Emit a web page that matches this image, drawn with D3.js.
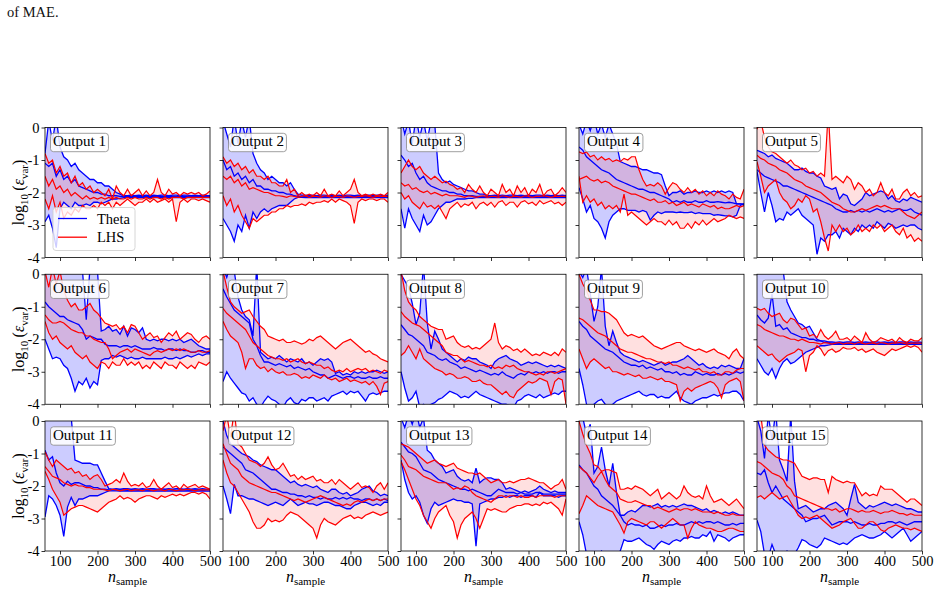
<!DOCTYPE html>
<html>
<head>
<meta charset="utf-8">
<script src="https://cdn.jsdelivr.net/npm/d3@7"></script>
<style>
  body { margin: 0; background: #fff; }
  svg text { font-family: "Liberation Serif", "Times New Roman", serif; }
</style>
</head>
<body>
<script>
// sample sizes on the x axis
const nSample = [60,70,80,90,100,110,120,130,140,150,160,170,180,190,200,210,220,230,240,250,260,270,280,290,300,
  310,320,330,340,350,360,370,380,390,400,410,420,430,440,450,460,470,480,490,500];

const outputNames = ["Output 1","Output 2","Output 3","Output 4","Output 5","Output 6","Output 7","Output 8",
  "Output 9","Output 10","Output 11","Output 12","Output 13","Output 14","Output 15"];

const xTicks = [100, 200, 300, 400, 500];
const yTicks = [0, -1, -2, -3, -4];

// log10 error, Theta sampling: upper bound, median, lower bound (one row per output)
const thetaUpper = [
  [-0.8,0.2,-0.4,0.3,-0.6,-0.9,-1.0,-1.2,-1.1,-1.3,-1.4,-1.5,-1.6,-1.6,-1.7,-1.7,-1.8,-1.8,-1.9,-2.0,-2.05,-2.1,-2.1,-2.08,-2.1,-2.08,-2.1,-2.08,-2.1,-2.08,-2.1,-2.08,-2.08,-2.1,-2.08,-2.08,-2.1,-2.08,-2.08,-2.1,-2.08,-2.1,-2.08,-2.1,-2.1],
  [0.2,-0.2,-0.6,0.3,-0.5,0.2,-0.3,0.3,-0.8,-1.1,-1.3,-1.4,-1.6,-1.5,-1.6,-1.7,-1.7,-1.8,-1.7,-1.9,-2.05,-2.08,-2.08,-2.1,-2.08,-2.1,-2.08,-2.08,-2.1,-2.08,-2.1,-2.08,-2.1,-2.08,-2.08,-2.1,-2.08,-2.1,-2.08,-2.08,-2.1,-2.08,-2.08,-2.1,-2.08],
  [0.3,-0.2,0.2,-0.5,0.3,-0.3,0.2,-0.4,0.2,0.1,-1.4,-1.6,-1.7,-1.65,-1.75,-1.8,-1.85,-1.9,-1.95,-1.95,-2.0,-2.05,-2.05,-2.1,-2.1,-2.08,-2.1,-2.08,-2.1,-2.08,-2.08,-2.1,-2.08,-2.1,-2.08,-2.1,-2.08,-2.08,-2.1,-2.08,-2.1,-2.08,-2.1,-2.08,-2.1],
  [0.1,-0.2,0.2,-0.1,0.3,-0.2,0.1,-0.3,0.1,-0.2,-0.5,-1.05,-1.1,-1.15,-1.2,-1.2,-1.25,-1.3,-1.3,-1.35,-1.4,-1.4,-1.45,-1.8,-2.1,-2.0,-2.0,-1.95,-2.05,-2.0,-2.0,-1.95,-2.0,-2.0,-1.95,-2.0,-1.95,-2.0,-1.95,-2.0,-1.95,-2.0,-2.35,-2.35,-2.35],
  [-0.7,-0.75,-0.8,-0.9,-0.85,-0.95,-1.0,-1.05,-1.1,-1.2,-1.3,-1.3,-1.25,-1.35,-1.4,-1.4,-1.5,-1.55,-1.8,-1.85,-1.9,-1.85,-2.2,-2.05,-2.1,-2.35,-2.4,-2.3,-2.2,-2.0,-2.1,-2.05,-2.0,-1.95,-2.0,-2.2,-2.1,-2.25,-2.3,-2.2,-2.25,-2.15,-2.2,-2.25,-2.3],
  [0.2,0.3,0.3,0.2,0.1,0.3,0.2,0.4,0.2,0.3,0.1,-1.4,0.2,0.3,0.1,-1.75,-1.7,-1.6,-1.75,-1.7,-1.85,-1.6,-1.9,-1.65,-1.7,-1.8,-1.65,-2.0,-2.05,-2.0,-2.05,-2.0,-2.0,-2.05,-2.0,-2.05,-2.0,-2.1,-2.05,-2.0,-2.1,-2.2,-2.25,-2.3,-2.3],
  [0.2,-0.1,0.3,0.1,-0.7,-1.1,-1.3,-1.4,-1.9,0.3,-2.4,-2.5,-2.6,-2.55,-2.6,-2.5,-2.6,-2.7,-2.6,-2.65,-2.7,-2.6,-2.75,-2.7,-2.8,-2.7,-2.6,-2.65,-2.6,-2.7,-3.05,-3.0,-3.1,-3.05,-3.1,-3.0,-3.05,-3.0,-3.05,-3.0,-3.0,-2.95,-3.0,-3.05,-3.0],
  [0.0,-0.2,-0.4,-0.9,-1.55,-1.2,0.3,-1.5,-2.3,-1.75,-2.0,-2.3,-2.4,-2.5,-2.6,-2.7,-2.6,-2.65,-2.55,-2.6,-2.6,-2.7,-2.75,-2.8,-2.9,-2.7,-2.6,-2.55,-2.5,-2.6,-2.65,-2.7,-2.8,-2.75,-2.7,-2.75,-2.7,-2.75,-2.8,-2.85,-2.8,-2.85,-2.8,-2.85,-2.9],
  [0.1,-0.1,0.2,-0.6,-1.45,-1.0,0.2,-1.6,-2.2,-1.75,-2.1,-2.4,-2.5,-2.55,-2.6,-2.65,-2.7,-2.65,-2.7,-2.75,-2.8,-2.75,-2.7,-2.8,-2.75,-2.7,-2.7,-2.65,-2.6,-2.5,-2.6,-2.7,-2.8,-2.75,-2.85,-2.9,-2.85,-2.9,-2.8,-2.85,-2.8,-2.85,-2.9,-2.9,-2.6],
  [0.1,0.2,0.3,0.1,0.2,0.1,0.2,0.1,-0.85,-1.1,-1.3,-1.5,-1.55,-1.65,-1.6,-1.8,-2.0,-2.05,-2.05,-2.08,-2.08,-2.1,-2.08,-2.1,-2.08,-2.08,-2.1,-2.08,-2.1,-2.08,-2.1,-2.08,-2.08,-2.1,-2.08,-2.1,-2.08,-2.1,-2.08,-2.08,-2.1,-2.08,-2.1,-2.08,-2.1],
  [0.1,0.2,0.2,0.1,0.3,0.2,0.2,0.1,-1.2,-1.25,-1.3,-1.3,-1.3,-1.35,-1.35,-1.6,-1.85,-2.08,-2.1,-2.08,-2.1,-2.08,-2.08,-2.1,-2.08,-2.1,-2.08,-2.1,-2.08,-2.08,-2.1,-2.08,-2.1,-2.08,-2.1,-2.08,-2.08,-2.1,-2.08,-2.1,-2.08,-2.1,-2.08,-2.1,-2.1],
  [0.0,-0.45,-0.7,-0.8,-0.9,-1.0,-1.05,-1.1,-1.2,-1.25,-1.35,-1.4,-1.45,-1.5,-1.5,-1.6,-1.7,-1.8,-1.9,-1.85,-1.95,-2.0,-1.95,-2.0,-2.05,-2.0,-2.1,-2.15,-2.2,-2.1,-2.1,-2.2,-2.25,-2.2,-2.3,-2.25,-2.2,-2.1,-2.05,-2.0,-2.15,-2.2,-2.3,-2.25,-2.3],
  [0.1,-0.2,0.2,-0.1,0.3,-0.2,0.1,-0.9,-1.0,-1.2,-1.3,-1.4,-1.6,-1.55,-1.5,-1.7,-1.8,-1.85,-1.8,-1.9,-1.45,-1.9,-1.8,-1.75,-1.75,-1.8,-1.8,-1.9,-2.1,-2.05,-2.1,-2.15,-2.2,-2.15,-2.2,-2.15,-2.1,-2.0,-2.1,-2.15,-2.2,-2.15,-2.2,-2.2,-2.2],
  [0.3,0.1,-0.4,-0.1,-1.6,-1.4,-0.8,-1.5,-2.0,-1.3,-2.2,-2.9,-2.9,-2.8,-2.75,-2.8,-2.7,-2.6,-2.6,-2.65,-2.6,-2.55,-2.65,-2.6,-2.65,-2.6,-2.65,-2.6,-2.55,-2.6,-2.6,-2.65,-2.7,-2.75,-2.7,-2.8,-2.75,-2.8,-2.85,-2.8,-2.85,-2.8,-2.85,-2.9,-2.9],
  [0.1,-0.3,-1.15,0.2,-0.6,0.3,-1.2,-1.5,-1.85,0.2,-1.85,-2.7,-2.65,-2.6,-2.7,-2.8,-2.75,-2.7,-2.7,-2.6,-2.55,-2.5,-2.6,-2.7,-2.9,-2.4,-1.95,-2.5,-2.6,-2.7,-2.6,-2.65,-2.6,-2.55,-2.5,-2.55,-2.6,-2.55,-2.6,-2.65,-2.7,-2.7,-2.75,-2.8,-2.8]
];

const thetaMedian = [
  [-1.1,-1.2,-1.1,-1.5,-1.3,-1.6,-1.5,-1.7,-1.6,-1.8,-1.85,-1.9,-1.95,-2.0,-2.0,-2.05,-2.05,-2.1,-2.1,-2.1,-2.12,-2.12,-2.13,-2.12,-2.12,-2.13,-2.12,-2.12,-2.13,-2.12,-2.12,-2.12,-2.13,-2.12,-2.12,-2.13,-2.12,-2.12,-2.12,-2.13,-2.12,-2.12,-2.13,-2.12,-2.12],
  [-1.0,-1.3,-1.2,-1.5,-1.4,-1.6,-1.5,-1.7,-1.6,-1.8,-1.8,-1.9,-1.9,-1.95,-1.95,-2.0,-2.0,-2.05,-2.05,-2.1,-2.12,-2.12,-2.13,-2.12,-2.12,-2.13,-2.12,-2.12,-2.13,-2.12,-2.12,-2.12,-2.13,-2.12,-2.12,-2.13,-2.12,-2.12,-2.12,-2.13,-2.12,-2.12,-2.13,-2.12,-2.12],
  [-0.85,-1.0,-1.2,-1.1,-1.4,-1.6,-1.5,-1.7,-1.8,-1.85,-1.9,-1.95,-1.95,-2.0,-2.0,-2.05,-2.05,-2.1,-2.1,-2.1,-2.12,-2.12,-2.13,-2.12,-2.12,-2.13,-2.12,-2.12,-2.13,-2.12,-2.12,-2.12,-2.13,-2.12,-2.12,-2.13,-2.12,-2.12,-2.12,-2.13,-2.12,-2.12,-2.13,-2.12,-2.12],
  [-0.6,-0.7,-0.9,-1.0,-1.1,-1.2,-1.3,-1.35,-1.4,-1.5,-1.6,-1.65,-1.7,-1.75,-1.8,-1.85,-1.9,-1.9,-1.95,-2.0,-2.0,-2.05,-2.1,-2.15,-2.2,-2.3,-2.25,-2.3,-2.25,-2.3,-2.3,-2.25,-2.3,-2.3,-2.25,-2.3,-2.3,-2.28,-2.3,-2.32,-2.3,-2.32,-2.35,-2.35,-2.38],
  [-1.3,-1.4,-1.5,-1.55,-1.6,-1.65,-1.7,-1.8,-1.8,-1.85,-1.9,-1.95,-2.0,-2.05,-2.1,-2.15,-2.2,-2.25,-2.3,-2.35,-2.4,-2.5,-2.55,-2.6,-2.6,-2.55,-2.6,-2.55,-2.6,-2.55,-2.6,-2.55,-2.5,-2.55,-2.6,-2.55,-2.6,-2.55,-2.5,-2.55,-2.55,-2.5,-2.6,-2.65,-2.7],
  [-0.85,-1.0,-1.1,-1.2,-1.3,-1.3,-1.4,-1.45,-1.5,-1.55,-1.7,-2.0,-1.9,-1.95,-2.0,-2.0,-2.15,-2.2,-2.2,-2.2,-2.25,-2.2,-2.2,-2.25,-2.2,-2.25,-2.3,-2.3,-2.3,-2.25,-2.3,-2.3,-2.35,-2.3,-2.3,-2.35,-2.3,-2.35,-2.35,-2.4,-2.4,-2.35,-2.35,-2.4,-2.4],
  [-0.45,-0.7,-0.9,-1.1,-1.2,-1.3,-1.4,-1.5,-2.0,-2.2,-2.5,-2.7,-2.7,-2.75,-2.8,-2.75,-2.8,-2.85,-2.8,-2.9,-2.85,-2.9,-2.95,-2.9,-3.0,-3.05,-3.1,-3.1,-3.2,-3.15,-3.1,-3.15,-3.2,-3.15,-3.15,-3.2,-3.15,-3.2,-3.2,-3.15,-3.2,-3.2,-3.15,-3.2,-3.2],
  [-1.55,-1.7,-1.85,-1.9,-2.0,-2.1,-2.2,-2.4,-2.45,-2.5,-2.6,-2.65,-2.6,-2.7,-2.75,-2.8,-2.9,-2.85,-2.9,-2.95,-3.0,-2.95,-3.0,-3.05,-3.1,-3.05,-3.1,-3.0,-3.1,-3.15,-3.2,-3.1,-3.05,-3.1,-3.0,-3.05,-3.0,-3.05,-3.0,-3.05,-3.0,-3.0,-3.05,-3.0,-3.0],
  [-1.45,-1.6,-1.7,-1.9,-2.0,-2.1,-2.2,-2.3,-2.35,-2.4,-2.5,-2.6,-2.7,-2.75,-2.8,-2.8,-2.85,-2.8,-2.9,-2.85,-2.9,-2.95,-2.9,-3.0,-3.0,-3.05,-3.0,-3.1,-3.05,-3.1,-3.1,-3.0,-3.05,-3.1,-3.05,-3.1,-3.1,-3.05,-3.1,-3.05,-3.1,-3.05,-3.0,-3.05,-3.0],
  [-1.25,-1.4,-1.5,-1.35,-0.6,-1.6,-1.55,-1.7,-1.65,-1.8,-1.85,-1.9,-1.95,-1.95,-2.0,-2.0,-2.05,-2.05,-2.1,-2.1,-2.12,-2.12,-2.13,-2.12,-2.12,-2.13,-2.12,-2.12,-2.13,-2.12,-2.12,-2.12,-2.13,-2.12,-2.12,-2.13,-2.12,-2.12,-2.12,-2.13,-2.12,-2.12,-2.13,-2.12,-2.12],
  [-0.9,-1.2,-1.1,-1.6,-1.9,-2.0,-1.85,-1.95,-1.9,-1.9,-1.95,-2.0,-2.0,-2.05,-2.05,-2.1,-2.1,-2.12,-2.12,-2.12,-2.12,-2.12,-2.13,-2.12,-2.12,-2.13,-2.12,-2.12,-2.13,-2.12,-2.12,-2.12,-2.13,-2.12,-2.12,-2.13,-2.12,-2.12,-2.12,-2.13,-2.12,-2.12,-2.13,-2.12,-2.12],
  [-0.8,-0.9,-1.0,-1.1,-1.2,-1.3,-1.5,-1.55,-1.6,-1.7,-1.8,-1.9,-2.0,-2.1,-2.1,-2.15,-2.2,-2.2,-2.25,-2.25,-2.3,-2.3,-2.35,-2.3,-2.35,-2.35,-2.4,-2.35,-2.4,-2.4,-2.35,-2.4,-2.35,-2.4,-2.35,-2.4,-2.4,-2.45,-2.4,-2.4,-2.45,-2.4,-2.45,-2.4,-2.45],
  [-0.65,-0.8,-0.95,-1.0,-1.1,-1.3,-1.5,-1.55,-1.6,-1.7,-1.8,-1.85,-1.9,-1.95,-2.0,-2.05,-2.1,-2.1,-2.15,-2.1,-2.15,-2.2,-2.25,-2.3,-2.3,-2.2,-2.1,-2.15,-2.2,-2.2,-2.2,-2.25,-2.2,-2.25,-2.25,-2.25,-2.2,-2.2,-2.25,-2.25,-2.25,-2.25,-2.25,-2.25,-2.25],
  [-1.35,-1.5,-1.6,-1.8,-2.0,-2.1,-2.3,-2.4,-2.5,-2.6,-2.75,-2.9,-3.1,-3.2,-3.15,-3.2,-3.2,-3.25,-3.2,-3.3,-3.3,-3.25,-3.2,-3.25,-3.2,-3.2,-3.15,-3.2,-3.2,-3.15,-3.1,-3.15,-3.1,-3.15,-3.1,-3.1,-3.15,-3.1,-3.15,-3.2,-3.2,-3.15,-3.2,-3.15,-3.15],
  [-1.6,-1.65,-1.5,-1.9,-2.2,-2.0,-2.2,-2.4,-2.5,-2.6,-2.7,-2.8,-2.9,-3.1,-3.05,-3.0,-3.0,-2.95,-2.9,-3.05,-3.2,-3.15,-3.1,-3.1,-3.1,-3.15,-3.1,-3.15,-3.2,-3.2,-3.15,-3.2,-3.2,-3.15,-3.15,-3.1,-3.1,-3.15,-3.1,-3.15,-3.2,-3.15,-3.1,-3.1,-3.1]
];

const thetaLower = [
  [-2.9,-2.7,-3.1,-3.7,-2.5,-2.3,-2.4,-2.5,-2.3,-2.4,-2.4,-2.35,-2.4,-2.3,-2.3,-2.35,-2.3,-2.25,-2.2,-2.2,-2.18,-2.16,-2.15,-2.15,-2.15,-2.16,-2.15,-2.16,-2.15,-2.16,-2.15,-2.16,-2.16,-2.15,-2.16,-2.15,-2.16,-2.15,-2.16,-2.15,-2.16,-2.15,-2.16,-2.15,-2.16],
  [-2.8,-3.0,-3.2,-3.5,-3.0,-3.2,-2.7,-3.1,-2.6,-2.8,-2.6,-2.5,-2.6,-2.5,-2.45,-2.4,-2.4,-2.4,-2.3,-2.2,-2.15,-2.15,-2.16,-2.15,-2.16,-2.15,-2.16,-2.15,-2.16,-2.15,-2.16,-2.16,-2.15,-2.16,-2.15,-2.16,-2.15,-2.16,-2.15,-2.16,-2.15,-2.16,-2.15,-2.16,-2.16],
  [-2.5,-3.1,-2.5,-2.8,-3.0,-3.2,-2.7,-3.0,-2.9,-2.7,-2.5,-2.4,-2.3,-2.3,-2.25,-2.2,-2.2,-2.2,-2.18,-2.18,-2.16,-2.15,-2.16,-2.15,-2.16,-2.15,-2.16,-2.15,-2.16,-2.15,-2.16,-2.16,-2.15,-2.16,-2.15,-2.16,-2.15,-2.16,-2.15,-2.16,-2.15,-2.16,-2.15,-2.16,-2.16],
  [-1.85,-2.2,-2.6,-2.4,-2.8,-2.9,-3.1,-3.4,-2.9,-2.7,-2.6,-2.5,-2.5,-2.55,-2.55,-2.55,-2.6,-2.55,-2.6,-2.85,-2.7,-2.6,-2.65,-2.6,-2.6,-2.6,-2.62,-2.6,-2.62,-2.62,-2.6,-2.65,-2.62,-2.65,-2.65,-2.65,-2.7,-2.68,-2.7,-2.72,-2.72,-2.75,-2.7,-2.4,-2.35],
  [-1.35,-2.0,-2.6,-2.0,-2.4,-2.9,-2.8,-2.85,-2.6,-2.7,-2.6,-2.5,-2.7,-2.8,-2.9,-3.0,-3.9,-3.4,-3.5,-3.3,-3.3,-3.2,-3.4,-3.1,-3.2,-3.3,-3.1,-3.2,-3.0,-3.1,-3.0,-3.1,-2.9,-3.0,-3.1,-2.95,-3.0,-3.1,-3.05,-3.0,-3.05,-3.0,-3.0,-3.1,-3.15],
  [-2.0,-2.3,-2.6,-2.55,-2.6,-2.8,-2.9,-3.2,-3.6,-3.3,-3.4,-3.2,-3.5,-3.3,-3.4,-2.65,-2.6,-2.6,-2.5,-2.55,-2.5,-2.55,-2.6,-2.55,-2.6,-2.6,-2.55,-2.6,-2.6,-2.6,-2.6,-2.6,-2.55,-2.6,-2.6,-2.55,-2.6,-2.55,-2.5,-2.55,-2.5,-2.45,-2.5,-2.45,-2.45],
  [-3.3,-3.0,-3.2,-3.35,-3.5,-3.65,-3.7,-3.9,-3.8,-4.0,-4.1,-3.9,-3.75,-3.85,-3.9,-4.0,-4.1,-3.9,-3.8,-3.95,-4.0,-3.85,-3.9,-3.8,-3.8,-3.9,-3.85,-3.8,-3.9,-3.75,-3.7,-3.65,-3.6,-3.7,-3.6,-3.65,-3.6,-3.75,-3.9,-3.7,-3.65,-3.7,-3.65,-3.6,-3.6],
  [-3.0,-3.5,-3.9,-3.8,-3.6,-4.1,-4.0,-4.1,-4.0,-3.95,-3.85,-3.8,-3.7,-3.6,-3.65,-3.7,-3.8,-3.75,-3.8,-3.7,-3.6,-3.7,-3.75,-3.8,-3.85,-3.9,-3.95,-4.0,-4.0,-4.05,-4.1,-3.9,-3.85,-3.75,-3.7,-3.75,-3.8,-3.7,-3.8,-3.75,-3.7,-3.65,-3.7,-3.6,-3.6],
  [-2.9,-3.4,-4.0,-4.1,-4.0,-3.9,-3.85,-4.0,-4.1,-4.0,-3.9,-3.85,-3.8,-3.75,-3.7,-3.65,-3.6,-3.7,-3.75,-3.7,-3.7,-3.8,-3.75,-3.8,-3.8,-3.7,-3.6,-3.8,-3.9,-3.95,-4.0,-3.9,-3.85,-3.8,-3.8,-3.75,-3.7,-3.75,-3.7,-3.65,-3.65,-3.6,-3.6,-3.7,-3.9],
  [-2.6,-2.8,-3.0,-3.1,-2.9,-3.2,-2.9,-2.7,-2.6,-2.75,-2.7,-2.6,-2.5,-2.4,-2.35,-2.3,-2.25,-2.2,-2.2,-2.18,-2.16,-2.15,-2.16,-2.15,-2.16,-2.15,-2.16,-2.15,-2.16,-2.15,-2.16,-2.16,-2.15,-2.16,-2.15,-2.16,-2.15,-2.16,-2.15,-2.16,-2.15,-2.16,-2.15,-2.16,-2.16],
  [-2.95,-2.3,-2.4,-2.6,-2.9,-3.55,-2.65,-2.35,-2.6,-2.4,-2.4,-2.35,-2.3,-2.3,-2.3,-2.25,-2.2,-2.15,-2.15,-2.15,-2.16,-2.15,-2.16,-2.15,-2.16,-2.15,-2.16,-2.15,-2.16,-2.15,-2.16,-2.16,-2.15,-2.16,-2.15,-2.16,-2.15,-2.16,-2.15,-2.16,-2.15,-2.16,-2.15,-2.16,-2.16],
  [-2.0,-2.4,-2.85,-1.95,-2.3,-2.3,-2.35,-2.4,-2.4,-2.45,-2.5,-2.55,-2.6,-2.55,-2.5,-2.55,-2.6,-2.5,-2.4,-2.5,-2.6,-2.55,-2.5,-2.55,-2.55,-2.6,-2.55,-2.5,-2.5,-2.55,-2.6,-2.6,-2.65,-2.7,-2.7,-2.6,-2.55,-2.5,-2.5,-2.55,-2.6,-2.55,-2.6,-2.5,-2.5],
  [-1.2,-1.8,-2.2,-2.4,-2.3,-2.5,-2.9,-3.15,-2.7,-2.5,-2.6,-2.55,-2.5,-2.45,-2.4,-2.45,-2.45,-2.5,-2.5,-2.55,-3.85,-2.55,-2.5,-2.45,-2.4,-2.4,-2.35,-2.35,-2.3,-2.35,-2.3,-2.3,-2.35,-2.3,-2.3,-2.3,-2.35,-2.2,-2.3,-2.3,-2.3,-2.3,-2.35,-2.3,-2.3],
  [-3.1,-3.5,-4.1,-4.2,-4.1,-4.2,-4.0,-4.1,-4.2,-4.1,-4.1,-4.0,-3.65,-3.7,-3.7,-3.65,-3.6,-3.7,-3.8,-3.85,-3.95,-3.8,-3.7,-3.75,-3.8,-3.7,-3.65,-3.7,-3.6,-3.6,-3.55,-3.6,-3.6,-3.5,-3.55,-3.4,-3.7,-3.5,-3.55,-3.6,-3.7,-3.6,-3.55,-3.5,-3.5],
  [-3.05,-3.4,-4.1,-4.2,-3.8,-4.1,-4.2,-4.1,-4.0,-4.2,-4.1,-3.9,-3.65,-3.7,-3.8,-3.85,-3.9,-3.8,-3.6,-3.65,-3.7,-3.75,-3.8,-3.75,-3.8,-3.7,-3.6,-3.55,-3.5,-3.55,-3.6,-3.6,-3.55,-3.5,-3.4,-3.5,-3.6,-3.5,-3.4,-3.3,-3.5,-3.7,-3.6,-3.5,-3.4]
];

// log10 error, LHS sampling: upper bound, median, lower bound
const lhsUpper = [
  [-0.8,-1.1,-1.0,-1.4,-1.2,-1.5,-1.4,-1.7,-1.5,-1.8,-1.7,-1.9,-1.8,-2.0,-1.9,-2.0,-2.1,-1.9,-2.2,-1.8,-2.0,-2.1,-1.9,-2.1,-2.0,-1.9,-2.1,-1.95,-2.1,-2.0,-1.6,-2.0,-2.1,-1.9,-2.05,-2.0,-2.1,-2.0,-2.05,-2.0,-2.05,-2.0,-2.1,-2.05,-1.95],
  [-0.9,-1.1,-1.0,-1.2,-1.1,-1.3,-1.2,-1.4,-1.3,-1.5,-1.5,-1.6,-1.5,-1.7,-1.7,-1.8,-1.8,-1.6,-2.0,-1.9,-2.1,-2.0,-2.1,-2.05,-2.1,-2.0,-2.1,-1.9,-2.1,-2.05,-2.1,-1.95,-2.1,-2.0,-1.9,-1.6,-2.0,-2.1,-2.05,-2.1,-2.05,-2.1,-2.05,-2.1,-2.0],
  [-1.4,-1.2,-1.0,-1.2,-1.3,-1.2,-1.4,-1.5,-1.6,-1.5,-1.6,-1.7,-1.65,-1.75,-1.8,-1.9,-1.85,-2.0,-1.75,-1.9,-2.0,-1.8,-2.0,-2.1,-1.9,-2.0,-2.1,-1.75,-2.0,-1.9,-2.1,-1.8,-2.0,-1.85,-2.1,-1.9,-2.0,-1.75,-2.1,-1.95,-1.9,-2.1,-2.0,-1.85,-2.0],
  [-0.75,-0.8,-0.75,-0.9,-0.85,-1.0,-0.9,-1.0,-0.95,-1.05,-1.0,-1.05,-0.95,-1.0,-0.9,-0.9,-1.3,-1.6,-1.8,-1.75,-1.8,-1.7,-1.8,-2.05,-1.85,-1.7,-1.75,-1.9,-2.0,-1.85,-2.0,-1.9,-2.05,-1.95,-2.1,-2.0,-2.1,-1.95,-2.05,-2.1,-2.2,-2.05,-2.15,-2.2,-1.9],
  [-0.05,0.2,-0.3,-0.6,-0.75,-0.8,-0.9,-1.0,-1.1,-1.0,-1.15,-1.2,-1.3,-1.25,-1.4,-1.35,-1.5,-1.4,-1.5,0.5,-1.6,-1.5,-1.6,-1.7,-1.5,-1.6,-1.9,-1.7,-1.8,-2.0,-1.9,-2.1,-2.0,-1.7,-2.0,-2.1,-1.9,-2.2,-2.2,-2.0,-1.9,-2.1,-2.0,-2.15,-2.1],
  [0.1,-0.4,0.2,-0.3,0.1,-0.5,-0.8,-1.0,-0.9,-1.1,-1.1,-1.0,-0.9,-1.1,-1.2,-1.35,-1.5,-1.55,-1.6,-1.55,-1.7,-1.6,-1.8,-1.55,-1.6,-1.8,-2.0,-1.9,-1.8,-1.95,-1.9,-2.1,-1.95,-1.8,-1.9,-1.75,-2.0,-1.9,-1.8,-1.85,-2.0,-2.1,-1.95,-1.9,-2.0],
  [0.1,-0.4,-0.85,-1.0,-1.1,-1.2,-1.15,-1.1,-1.3,-1.45,-1.6,-1.7,-1.9,-1.95,-2.0,-2.05,-2.0,-2.1,-2.1,-2.05,-2.1,-2.15,-2.1,-2.0,-2.05,-1.95,-1.9,-2.0,-2.1,-2.2,-2.3,-2.2,-2.1,-2.05,-2.0,-2.1,-2.2,-2.3,-2.4,-2.35,-2.45,-2.5,-2.6,-2.65,-2.7],
  [0.1,-0.5,-0.85,-1.0,-1.1,-1.3,-1.4,-1.5,-1.6,-1.65,-1.7,-1.7,-2.0,-1.95,-1.9,-2.1,-2.2,-2.25,-2.2,-2.3,-2.25,-2.3,-2.2,-2.1,-2.0,-1.5,-2.1,-2.3,-2.2,-2.25,-2.35,-2.3,-2.4,-2.3,-2.4,-2.5,-2.45,-2.5,-2.4,-2.45,-2.5,-2.4,-2.5,-2.3,-2.4],
  [0.0,-0.3,-0.5,-0.8,-1.1,-1.1,-1.15,-1.15,-1.2,-1.3,-1.4,-1.6,-1.8,-1.9,-1.85,-1.9,-1.95,-1.9,-2.0,-2.1,-2.2,-2.25,-2.3,-2.25,-2.2,-2.15,-2.1,-2.1,-2.2,-2.25,-2.3,-2.35,-2.3,-2.35,-2.4,-2.35,-2.3,-2.4,-2.45,-2.5,-2.6,-2.4,-2.3,-2.5,-2.6],
  [-1.05,-1.1,-1.05,-1.2,-1.3,-1.25,-1.2,-1.4,-1.5,-1.35,-1.4,-1.55,-1.7,-1.65,-1.9,-1.85,-1.95,-1.7,-1.9,-2.0,-1.9,-1.75,-2.0,-2.0,-1.95,-2.05,-1.9,-2.0,-2.1,-1.8,-2.0,-2.1,-2.05,-1.95,-2.0,-2.05,-2.0,-2.1,-1.95,-2.05,-2.1,-2.0,-2.05,-2.05,-1.95],
  [-0.95,-1.2,-1.4,-1.2,-1.3,-1.4,-1.5,-1.45,-1.6,-1.55,-1.7,-1.65,-1.8,-1.7,-1.65,-1.8,-2.0,-1.95,-1.9,-1.8,-1.9,-1.6,-1.85,-2.0,-1.95,-2.0,-1.9,-2.05,-2.0,-1.8,-2.0,-2.1,-2.0,-1.9,-2.05,-2.0,-2.1,-1.95,-2.05,-2.0,-1.95,-2.05,-2.0,-2.05,-2.1],
  [-0.3,0.2,-0.5,0.3,-0.7,-0.8,-1.0,-1.2,-1.25,-1.3,-1.4,-1.3,-1.1,-1.35,-1.5,-1.45,-1.3,-1.5,-1.7,-1.65,-1.8,-1.7,-1.8,-1.75,-1.7,-1.85,-1.8,-1.9,-1.9,-1.8,-1.95,-1.8,-1.9,-2.0,-2.1,-2.0,-1.9,-2.05,-2.0,-2.05,-2.2,-2.0,-1.9,-2.1,-1.9],
  [-0.7,-0.75,-0.8,-0.9,-1.0,-1.1,-1.2,-1.3,-1.25,-1.2,-1.3,-1.35,-1.4,-1.35,-1.3,-1.45,-1.5,-1.55,-1.6,-1.6,-1.65,-1.6,-1.7,-1.8,-1.9,-1.85,-1.8,-1.9,-1.9,-1.85,-1.9,-1.85,-1.8,-1.8,-1.75,-1.8,-1.85,-1.9,-1.9,-2.0,-2.1,-2.0,-1.95,-1.8,-2.1],
  [0.0,-0.4,-0.75,-1.0,-1.35,-1.4,-1.55,-1.5,-1.5,-1.55,-1.6,-2.1,-2.1,-2.05,-2.1,-2.0,-2.05,-2.1,-2.2,-2.3,-2.2,-2.1,-2.4,-2.3,-2.2,-2.3,-2.4,-2.3,-2.0,-2.2,-2.3,-2.35,-2.3,-2.4,-2.0,-2.3,-2.5,-2.45,-2.4,-2.5,-2.6,-2.5,-2.4,-2.55,-2.7],
  [0.0,0.2,-0.75,-0.9,-1.0,-1.1,-1.15,-1.2,-1.2,-1.25,-1.3,-1.5,-1.7,-1.75,-1.8,-1.75,-1.75,-1.8,-1.8,-2.2,-1.7,-1.8,-1.85,-1.9,-1.85,-1.9,-1.9,-2.1,-2.3,-2.2,-2.3,-2.25,-2.3,-2.0,-2.1,-2.1,-2.1,-2.2,-2.3,-2.4,-2.5,-2.4,-2.4,-2.5,-2.6]
];

const lhsMedian = [
  [-1.5,-1.8,-1.6,-1.9,-1.8,-2.0,-1.9,-2.1,-2.0,-2.1,-2.2,-2.1,-2.2,-2.15,-2.2,-2.15,-2.2,-2.15,-2.2,-2.15,-2.2,-2.2,-2.15,-2.2,-2.15,-2.2,-2.2,-2.15,-2.2,-2.15,-2.15,-2.2,-2.15,-2.2,-2.15,-2.15,-2.15,-2.2,-2.15,-2.15,-2.15,-2.15,-2.15,-2.15,-2.15],
  [-1.5,-1.6,-1.5,-1.7,-1.6,-1.8,-1.7,-1.9,-1.85,-1.9,-1.95,-2.0,-2.0,-2.05,-2.1,-2.1,-2.12,-2.15,-2.1,-2.12,-2.15,-2.12,-2.1,-2.15,-2.12,-2.12,-2.15,-2.1,-2.12,-2.15,-2.12,-2.12,-2.15,-2.1,-2.12,-2.15,-2.12,-2.12,-2.1,-2.12,-2.15,-2.12,-2.12,-2.12,-2.12],
  [-1.7,-1.8,-1.75,-1.9,-1.85,-1.95,-2.0,-1.95,-2.05,-2.0,-2.05,-2.1,-2.05,-2.1,-2.1,-2.1,-2.12,-2.15,-2.1,-2.12,-2.15,-2.12,-2.1,-2.15,-2.12,-2.12,-2.15,-2.1,-2.12,-2.15,-2.12,-2.12,-2.15,-2.1,-2.12,-2.15,-2.12,-2.12,-2.1,-2.12,-2.15,-2.12,-2.12,-2.12,-2.12],
  [-1.6,-1.55,-1.5,-1.6,-1.65,-1.6,-1.7,-1.65,-1.7,-1.8,-1.85,-1.9,-1.95,-2.0,-2.05,-2.05,-2.1,-2.15,-2.2,-2.25,-2.2,-2.3,-2.3,-2.25,-2.35,-2.3,-2.4,-2.35,-2.3,-2.4,-2.35,-2.4,-2.45,-2.35,-2.4,-2.45,-2.4,-2.5,-2.45,-2.5,-2.5,-2.45,-2.4,-2.45,-2.4],
  [-0.85,-0.95,-1.0,-1.1,-1.15,-1.2,-1.3,-1.35,-1.4,-1.5,-1.6,-1.65,-1.7,-1.8,-1.85,-1.9,-1.95,-2.0,-2.1,-2.2,-2.3,-2.35,-2.4,-2.5,-2.55,-2.6,-2.6,-2.55,-2.5,-2.55,-2.5,-2.45,-2.4,-2.45,-2.4,-2.45,-2.5,-2.5,-2.5,-2.6,-2.7,-2.75,-2.8,-2.7,-2.6],
  [-1.25,-1.4,-1.5,-1.5,-1.45,-1.5,-1.6,-1.7,-1.75,-1.8,-1.8,-1.9,-1.9,-2.0,-2.05,-2.1,-2.1,-2.3,-2.6,-2.5,-2.4,-2.35,-2.3,-2.4,-2.3,-2.35,-2.4,-2.45,-2.5,-2.4,-2.35,-2.4,-2.35,-2.3,-2.35,-2.3,-2.35,-2.3,-2.35,-2.4,-2.4,-2.35,-2.4,-2.4,-2.35],
  [-1.05,-1.2,-1.3,-1.4,-1.5,-1.6,-1.7,-1.9,-2.1,-2.2,-2.3,-2.4,-2.5,-2.55,-2.6,-2.6,-2.65,-2.6,-2.7,-2.65,-2.6,-2.7,-2.75,-2.7,-2.75,-2.8,-2.8,-2.9,-2.85,-2.95,-3.0,-2.95,-3.0,-2.9,-3.0,-2.95,-2.9,-2.95,-2.9,-3.0,-2.95,-3.0,-3.05,-2.95,-3.0],
  [-1.15,-1.3,-1.4,-1.5,-1.55,-1.6,-1.7,-1.8,-1.9,-2.0,-2.1,-2.2,-2.4,-2.45,-2.5,-2.5,-2.6,-2.7,-2.65,-2.7,-2.75,-2.8,-2.8,-2.85,-2.8,-2.9,-2.85,-2.9,-2.8,-2.85,-2.8,-2.9,-2.95,-3.0,-3.0,-3.05,-3.1,-3.05,-3.1,-3.0,-3.0,-3.05,-3.0,-2.95,-2.9],
  [-1.35,-1.4,-1.5,-1.6,-1.7,-1.8,-1.85,-1.9,-2.0,-2.1,-2.2,-2.3,-2.35,-2.4,-2.4,-2.45,-2.5,-2.55,-2.6,-2.6,-2.65,-2.7,-2.7,-2.75,-2.7,-2.8,-2.8,-2.85,-2.9,-2.85,-2.9,-2.95,-2.9,-3.0,-3.0,-3.05,-3.0,-3.1,-3.1,-3.0,-3.0,-3.05,-2.95,-2.9,-2.9],
  [-1.55,-1.6,-1.7,-1.75,-1.8,-1.85,-1.9,-1.9,-1.95,-2.0,-2.0,-2.05,-2.0,-2.05,-2.1,-2.1,-2.12,-2.15,-2.1,-2.12,-2.15,-2.12,-2.1,-2.15,-2.12,-2.12,-2.15,-2.1,-2.12,-2.15,-2.12,-2.12,-2.15,-2.1,-2.12,-2.15,-2.12,-2.12,-2.1,-2.12,-2.15,-2.12,-2.12,-2.12,-2.12],
  [-1.4,-1.55,-1.7,-1.75,-1.8,-1.9,-1.95,-2.0,-1.95,-2.0,-2.0,-2.05,-2.05,-2.1,-2.1,-2.1,-2.12,-2.15,-2.1,-2.12,-2.15,-2.12,-2.1,-2.15,-2.12,-2.12,-2.15,-2.1,-2.12,-2.15,-2.12,-2.12,-2.15,-2.1,-2.12,-2.15,-2.12,-2.12,-2.1,-2.12,-2.15,-2.12,-2.12,-2.12,-2.12],
  [-0.7,-1.0,-1.3,-1.4,-1.5,-1.7,-1.8,-1.9,-1.95,-2.0,-2.05,-2.1,-2.15,-2.2,-2.2,-2.25,-2.3,-2.35,-2.4,-2.45,-2.4,-2.45,-2.5,-2.45,-2.4,-2.35,-2.3,-2.35,-2.4,-2.45,-2.5,-2.55,-2.6,-2.55,-2.6,-2.5,-2.45,-2.5,-2.45,-2.4,-2.45,-2.4,-2.45,-2.4,-2.4],
  [-1.05,-1.2,-1.4,-1.45,-1.5,-1.6,-1.7,-1.75,-1.8,-1.85,-1.9,-1.9,-1.9,-2.0,-2.1,-2.05,-2.1,-2.0,-2.05,-2.2,-2.3,-2.35,-2.4,-2.45,-2.5,-2.4,-2.3,-2.3,-2.35,-2.3,-2.3,-2.35,-2.3,-2.35,-2.35,-2.3,-2.35,-2.3,-2.3,-2.3,-2.3,-2.35,-2.3,-2.3,-2.3],
  [-1.4,-1.5,-1.6,-1.75,-1.9,-1.7,-1.55,-1.8,-2.0,-2.1,-2.2,-2.4,-2.45,-2.5,-2.5,-2.45,-2.5,-2.55,-2.6,-2.6,-2.7,-2.65,-2.7,-2.75,-2.8,-2.75,-2.7,-2.75,-2.7,-2.7,-2.75,-2.7,-2.75,-2.8,-2.8,-2.8,-2.85,-2.8,-2.85,-2.9,-2.9,-2.85,-2.9,-2.9,-2.9],
  [-1.25,-1.3,-1.4,-1.5,-1.6,-1.65,-1.7,-1.8,-2.0,-2.1,-2.3,-2.35,-2.4,-2.45,-2.5,-2.55,-2.6,-2.65,-2.7,-2.7,-2.75,-2.7,-2.8,-2.75,-2.7,-2.7,-2.75,-2.8,-2.75,-2.8,-2.8,-2.75,-2.8,-2.85,-2.8,-2.8,-2.75,-2.8,-2.85,-2.85,-2.9,-2.85,-2.9,-2.9,-2.9]
];

const lhsLower = [
  [-2.2,-2.5,-2.1,-2.6,-2.3,-2.8,-2.6,-2.7,-2.5,-2.6,-2.4,-2.5,-2.5,-2.4,-2.5,-2.3,-2.4,-2.3,-2.5,-2.3,-2.4,-2.3,-2.2,-2.3,-2.4,-2.3,-2.3,-2.2,-2.3,-2.2,-2.3,-2.25,-2.2,-2.3,-2.2,-2.9,-2.3,-2.2,-2.3,-2.2,-2.2,-2.25,-2.2,-2.25,-2.3],
  [-2.1,-2.4,-2.2,-2.6,-2.4,-2.7,-2.9,-3.1,-2.8,-2.9,-2.8,-2.7,-2.7,-2.6,-2.6,-2.5,-2.5,-2.4,-2.45,-2.4,-2.4,-2.35,-2.4,-2.3,-2.35,-2.3,-2.3,-2.25,-2.3,-2.2,-2.3,-2.2,-2.25,-2.3,-2.4,-2.95,-2.3,-2.2,-2.25,-2.2,-2.2,-2.25,-2.2,-2.2,-2.3],
  [-2.0,-2.2,-2.1,-2.3,-2.4,-2.5,-2.3,-2.45,-2.4,-2.5,-2.4,-2.6,-2.8,-2.5,-2.4,-2.3,-2.45,-2.35,-2.4,-2.3,-2.5,-2.35,-2.3,-2.4,-2.3,-2.45,-2.3,-2.25,-2.4,-2.3,-2.3,-2.45,-2.3,-2.25,-2.35,-2.3,-2.4,-2.25,-2.35,-2.3,-2.25,-2.35,-2.3,-2.4,-2.3],
  [-1.5,-2.3,-2.1,-2.3,-2.2,-2.4,-2.3,-2.5,-2.4,-2.5,-2.4,-2.6,-2.05,-2.7,-2.6,-2.7,-2.8,-2.9,-3.0,-2.9,-2.8,-2.9,-2.9,-3.0,-2.85,-3.0,-2.9,-3.1,-3.1,-2.95,-3.1,-2.9,-3.0,-2.85,-3.0,-2.9,-2.8,-2.9,-2.85,-2.8,-2.7,-2.75,-2.8,-2.75,-2.8],
  [-1.05,-1.5,-2.0,-1.8,-1.7,-1.6,-2.0,-2.2,-2.3,-2.5,-2.4,-2.2,-2.3,-2.1,-2.2,-2.6,-2.5,-2.9,-3.4,-3.8,-3.0,-3.2,-3.0,-3.2,-3.1,-3.3,-3.2,-3.0,-3.2,-3.1,-3.2,-3.0,-3.1,-3.0,-3.2,-3.1,-3.0,-3.2,-3.3,-3.1,-3.4,-3.3,-3.5,-3.4,-3.5],
  [-1.45,-1.8,-2.0,-1.9,-2.1,-2.2,-2.3,-2.2,-2.4,-2.5,-2.6,-2.5,-2.7,-2.8,-2.9,-2.7,-2.75,-2.9,-2.7,-2.8,-2.8,-2.6,-2.8,-2.7,-2.8,-2.7,-2.9,-2.8,-2.9,-2.7,-2.8,-2.9,-2.7,-2.8,-2.8,-2.9,-2.7,-2.8,-2.9,-2.8,-2.9,-2.7,-2.75,-2.8,-2.7],
  [-1.45,-1.7,-1.9,-2.0,-2.1,-2.4,-2.9,-2.6,-2.6,-2.8,-2.9,-2.85,-3.0,-2.9,-3.0,-3.05,-3.0,-3.1,-3.1,-3.05,-3.1,-3.2,-3.15,-3.2,-3.1,-3.15,-3.2,-3.1,-3.2,-3.25,-3.2,-3.3,-3.25,-3.2,-3.3,-3.25,-3.3,-3.35,-3.3,-3.4,-3.3,-3.45,-3.7,-3.35,-3.3],
  [-2.5,-2.4,-2.2,-2.4,-2.6,-2.3,-2.6,-2.7,-2.8,-2.9,-2.95,-3.0,-3.1,-3.05,-3.1,-3.2,-3.2,-3.15,-3.2,-3.3,-3.3,-3.25,-3.35,-3.4,-3.4,-3.5,-3.6,-3.7,-3.6,-3.75,-3.8,-3.6,-3.5,-3.4,-3.3,-3.35,-3.3,-3.2,-3.25,-3.3,-3.7,-3.3,-3.2,-3.25,-4.0],
  [-2.3,-2.6,-2.9,-2.7,-2.6,-2.7,-2.8,-2.9,-2.85,-3.0,-3.0,-3.05,-3.1,-3.05,-3.1,-3.15,-3.1,-3.2,-3.2,-3.15,-3.2,-3.25,-3.2,-3.3,-3.3,-3.35,-3.4,-3.9,-3.6,-3.5,-3.6,-3.5,-3.45,-3.4,-3.35,-3.3,-3.35,-3.5,-3.8,-3.4,-3.3,-3.25,-3.2,-3.3,-3.9],
  [-2.2,-2.3,-2.4,-2.5,-2.45,-2.6,-2.7,-2.6,-2.5,-2.45,-2.4,-2.3,-2.35,-3.0,-2.5,-2.4,-2.2,-2.3,-2.5,-2.35,-2.3,-2.4,-2.35,-2.25,-2.3,-2.3,-2.25,-2.35,-2.3,-2.4,-2.35,-2.3,-2.4,-2.45,-2.5,-2.4,-2.3,-2.35,-2.3,-2.25,-2.2,-2.25,-2.2,-2.25,-2.4],
  [-1.55,-1.8,-2.1,-2.3,-2.5,-2.9,-2.8,-2.7,-2.65,-2.6,-2.6,-2.65,-2.7,-2.75,-2.8,-2.7,-2.6,-2.5,-2.45,-2.4,-2.3,-2.4,-2.35,-2.4,-2.5,-2.4,-2.35,-2.3,-2.3,-2.35,-2.4,-2.3,-2.35,-2.3,-2.25,-2.3,-2.25,-2.3,-2.25,-2.2,-2.2,-2.25,-2.2,-2.25,-2.4],
  [-1.2,-1.6,-1.9,-2.0,-2.2,-2.4,-2.6,-2.8,-3.1,-3.3,-3.3,-3.2,-3.0,-3.1,-3.05,-3.1,-3.05,-2.9,-2.8,-2.85,-2.9,-3.0,-3.1,-3.2,-3.3,-3.6,-3.2,-3.0,-3.1,-3.15,-3.2,-3.1,-3.0,-2.95,-2.9,-3.0,-2.95,-3.0,-2.9,-2.85,-2.8,-2.85,-2.9,-2.85,-2.8],
  [-1.25,-1.5,-1.8,-2.1,-2.4,-2.6,-2.9,-3.1,-3.3,-3.0,-2.8,-2.7,-2.6,-2.9,-3.1,-3.6,-3.2,-3.0,-2.9,-2.8,-3.0,-3.3,-3.0,-2.7,-2.75,-2.7,-2.75,-2.8,-2.8,-2.7,-2.65,-2.6,-2.6,-2.55,-2.55,-2.6,-2.55,-2.6,-2.5,-2.55,-2.5,-2.6,-2.7,-2.9,-2.4],
  [-2.85,-2.6,-2.3,-2.4,-2.5,-2.6,-2.65,-2.7,-2.75,-2.8,-3.0,-3.2,-3.45,-3.1,-3.0,-3.05,-3.1,-3.15,-3.2,-3.1,-3.1,-3.2,-3.3,-3.2,-3.1,-3.0,-3.1,-3.2,-3.2,-3.6,-3.3,-3.1,-3.2,-3.25,-3.3,-3.3,-3.35,-3.4,-3.4,-3.35,-3.3,-3.3,-3.35,-3.4,-3.4],
  [-2.35,-2.3,-2.4,-2.3,-2.2,-2.3,-2.4,-2.35,-2.3,-2.5,-2.7,-2.9,-3.0,-2.95,-3.0,-2.95,-2.9,-3.0,-3.1,-3.2,-3.3,-3.25,-3.2,-3.1,-3.05,-3.0,-3.15,-3.3,-3.3,-3.2,-3.1,-3.1,-3.2,-3.35,-3.4,-3.3,-3.25,-3.2,-3.25,-3.3,-3.3,-3.35,-3.3,-3.35,-3.4]
];

// ---- layout ----
const svgWidth = 940, svgHeight = 592;
const panelW = 165, panelH = 130;
const left0 = 45, colStep = 178;
const top0 = 127.5, rowStep = 146.75;
const thetaColor = "#0000ff", lhsColor = "#ff0000";

const svg = d3.select("body").append("svg")
  .attr("width", svgWidth)
  .attr("height", svgHeight);

svg.append("rect").attr("width", svgWidth).attr("height", svgHeight).attr("fill", "#fff");

// leftover caption line from the page above the figure
svg.append("text")
  .attr("x", 7).attr("y", 17)
  .attr("font-size", 14.5)
  .attr("fill", "#111")
  .text("of MAE.");

const x = d3.scaleLinear().domain([60, 500]).range([0, panelW]);
const y = d3.scaleLinear().domain([-4, 0]).range([panelH, 0]);

function band(upper, lower) {
  return d3.area()
    .x((d, i) => x(nSample[i]))
    .y0((d, i) => y(lower[i]))
    .y1(d => y(d))(upper);
}

const line = d3.line().x((d, i) => x(nSample[i])).y(d => y(d));

outputNames.forEach((name, k) => {
  const row = Math.floor(k / 5), col = k % 5;
  const g = svg.append("g")
    .attr("transform", `translate(${left0 + col * colStep},${top0 + row * rowStep})`);

  g.append("clipPath").attr("id", "clip" + k)
    .append("rect").attr("width", panelW).attr("height", panelH);

  const plot = g.append("g").attr("clip-path", `url(#clip${k})`);

  // shaded bands
  plot.append("path").attr("d", band(thetaUpper[k], thetaLower[k]))
    .attr("fill", thetaColor).attr("fill-opacity", 0.2);
  plot.append("path").attr("d", band(lhsUpper[k], lhsLower[k]))
    .attr("fill", lhsColor).attr("fill-opacity", 0.12);

  // bound and median lines
  [thetaUpper[k], thetaMedian[k], thetaLower[k]].forEach(s => {
    plot.append("path").attr("d", line(s))
      .attr("fill", "none").attr("stroke", thetaColor).attr("stroke-width", 1.3);
  });
  [lhsUpper[k], lhsMedian[k], lhsLower[k]].forEach(s => {
    plot.append("path").attr("d", line(s))
      .attr("fill", "none").attr("stroke", lhsColor).attr("stroke-width", 1.2);
  });

  // axes
  const yAxis = g.append("g")
    .call(d3.axisLeft(y).tickValues(yTicks).tickSize(3.5).tickPadding(2)
      .tickFormat(col === 0 ? (d => String(d)) : ""));
  const xAxis = g.append("g")
    .attr("transform", `translate(0,${panelH})`)
    .call(d3.axisBottom(x).tickValues(xTicks).tickSize(3.5).tickPadding(1.5)
      .tickFormat(row === 2 ? (d => String(d)) : ""));
  [xAxis, yAxis].forEach(a => {
    a.select(".domain").remove();
    a.selectAll("line").attr("stroke", "#000").attr("stroke-width", 0.8);
    a.selectAll("text").attr("font-family", "Liberation Serif, serif")
      .attr("font-size", 14.5).attr("fill", "#000");
  });

  // frame
  g.append("rect").attr("width", panelW).attr("height", panelH)
    .attr("fill", "none").attr("stroke", "#000").attr("stroke-width", 0.8);

  // panel title in a rounded box
  const tBox = g.append("rect").attr("rx", 3).attr("ry", 3)
    .attr("fill", "#fff").attr("fill-opacity", 0.85)
    .attr("stroke", "#888").attr("stroke-width", 0.8);
  const tText = g.append("text").attr("x", 8).attr("y", 18.7)
    .attr("font-size", 15).attr("fill", "#000").text(name);
  const bb = tText.node().getBBox();
  tBox.attr("x", bb.x - 2.5).attr("y", 5.8)
    .attr("width", bb.width + 5).attr("height", 18.4);

  // x label on bottom row
  if (row === 2) {
    const xl = g.append("text")
      .attr("x", panelW / 2).attr("y", panelH + 30.5)
      .attr("text-anchor", "middle").attr("font-size", 16);
    xl.append("tspan").attr("font-style", "italic").text("n");
    xl.append("tspan").attr("font-size", 11).attr("dy", 3).text("sample");
  }

  // y label on first column
  if (col === 0) {
    const yl = g.append("text")
      .attr("transform", `translate(-21,${panelH / 2}) rotate(-90)`)
      .attr("text-anchor", "middle").attr("font-size", 16);
    yl.append("tspan").text("log");
    yl.append("tspan").attr("font-size", 11).attr("dy", 3.5).text("10");
    yl.append("tspan").attr("dy", -3.5).text("\u2009(");
    yl.append("tspan").attr("font-style", "italic").text("\u03b5");
    yl.append("tspan").attr("font-size", 11).attr("dy", 3.5).text("var");
    yl.append("tspan").attr("dy", -3.5).text(")");
  }

  // legend only in the first panel
  if (k === 0) {
    const lg = g.append("g").attr("transform", "translate(8,80)");
    lg.append("rect").attr("width", 82).attr("height", 43).attr("rx", 3)
      .attr("fill", "#fff").attr("fill-opacity", 0.8)
      .attr("stroke", "#ccc").attr("stroke-width", 0.8);
    [["Theta", thetaColor], ["LHS", lhsColor]].forEach(([lab, c], i) => {
      const yy = 11 + i * 18.7;
      lg.append("line").attr("x1", 5).attr("x2", 34).attr("y1", yy).attr("y2", yy)
        .attr("stroke", c).attr("stroke-width", 1.3);
      lg.append("text").attr("x", 44).attr("y", yy + 5)
        .attr("font-size", 14.5).attr("fill", "#000").text(lab);
    });
  }
});
</script>
</body>
</html>
